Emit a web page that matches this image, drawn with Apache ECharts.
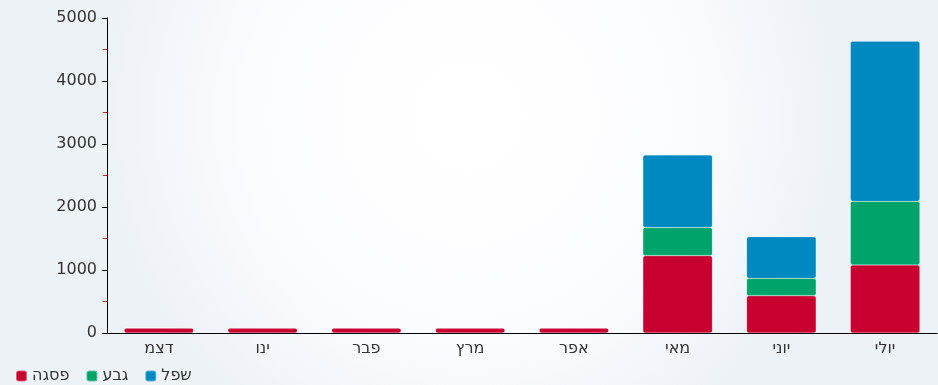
<!DOCTYPE html>
<html>
<head>
<meta charset="utf-8">
<script src="https://cdn.jsdelivr.net/npm/echarts@6/dist/echarts.min.js"></script>
<style>
  html, body { margin: 0; padding: 0; }
  #box1 { width: 938px; height: 385px; }
</style>
</head>
<body>
<div id="box1"></div>
<script>
// חודשים, משמאל לימין
const aMonths = ['דצמ', 'ינו', 'פבר', 'מרץ', 'אפר', 'מאי', 'יוני', 'יולי'];
// ערכים לכל סדרה (מוערמים)
const aPeak = [80, 80, 80, 80, 80, 1225, 590, 1080];
const aMid = [0, 0, 0, 0, 0, 450, 278, 1010];
const aLow = [0, 0, 0, 0, 0, 1150, 660, 2540];
const aNames = ['פסגה', 'גבע', 'שפל'];
const aColors = ['#c70030', '#00a36a', '#0088c0'];

const sFont = 'DejaVu Sans';

const oCommonPart = {
    type: 'bar',
    stack: 'total',
    barWidth: '67%',
    emphasis: { focus: 'series' },
};

const aSeries = [aPeak, aMid, aLow].map((cur, idx) => ({
    ...oCommonPart,
    name: aNames[idx],
    itemStyle: {
        color: aColors[idx],
        borderRadius: 2,
        borderColor: 'rgba(255,255,255,0.35)',
        borderWidth: 0.5,
    },
    data: cur,
}));

const myChart = echarts.init(document.getElementById('box1'));
myChart.setOption({
    animation: false,
    backgroundColor: {
        type: 'radial',
        x: 0.5, y: 0.3, r: 0.95,
        colorStops: [
            { offset: 0, color: '#ffffff' },
            { offset: 0.6, color: '#fbfcfe' },
            { offset: 1, color: '#edf2f7' },
        ],
    },
    textStyle: { fontFamily: sFont },
    legend: {
        left: 10,
        top: 363,
        icon: 'roundRect',
        itemWidth: 11,
        itemHeight: 11,
        itemGap: 16,
        textStyle: { fontFamily: sFont, fontSize: 16, color: '#333' },
        data: aNames,
    },
    grid: {
        left: 107,
        right: 1,
        top: 18,
        bottom: 52,
    },
    xAxis: {
        type: 'category',
        data: aMonths,
        axisLine: { lineStyle: { color: '#000', width: 1 } },
        axisTick: { show: false },
        axisLabel: { color: '#333', fontSize: 16, margin: 8, fontFamily: sFont },
    },
    yAxis: {
        type: 'value',
        min: 0,
        max: 5000,
        interval: 1000,
        axisLine: { show: true, lineStyle: { color: '#000', width: 1 } },
        axisTick: { show: true, length: 5, lineStyle: { color: '#000' } },
        minorTick: { show: true, splitNumber: 2, length: 4, lineStyle: { color: '#ff0000', width: 1 } },
        splitLine: { show: false },
        axisLabel: {
            color: '#333', fontSize: 16, margin: 10, fontFamily: sFont,
            formatter: v => String(v),
        },
    },
    series: aSeries,
});
</script>
</body>
</html>
